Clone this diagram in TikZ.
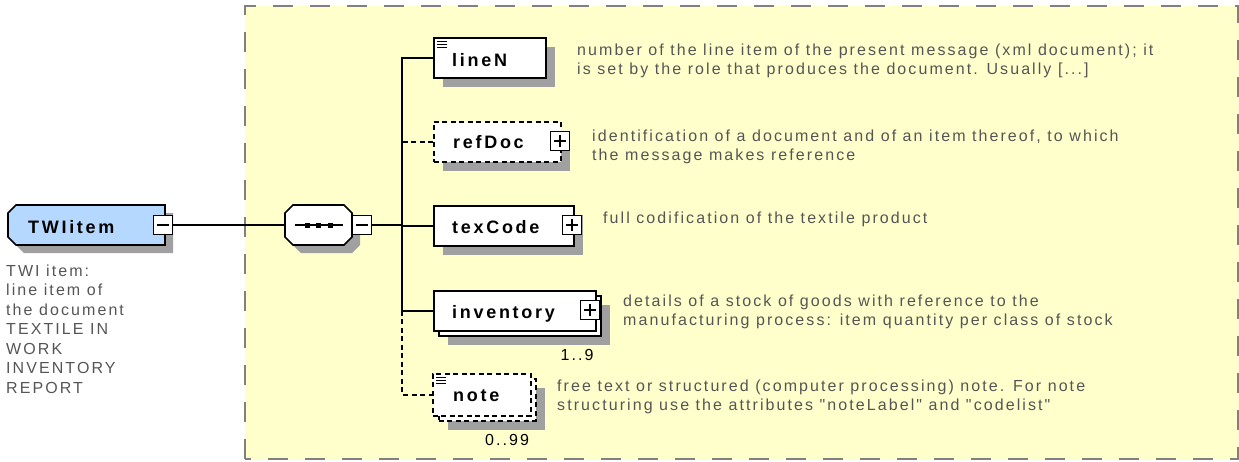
\documentclass[tikz,border=0pt]{standalone}
\usepackage{fontspec}
\setmainfont{Liberation Sans}
\newfontfamily\descfont[LetterSpace=13]{Liberation Sans}
\newfontfamily\lblfont[LetterSpace=15]{Liberation Sans}
\usetikzlibrary{calc,shadows}
\definecolor{bgyellow}{HTML}{FFFFCC}
\definecolor{bordergray}{HTML}{808080}
\definecolor{shadowgray}{HTML}{A0A0A0}
\definecolor{twiblue}{HTML}{B4D8FF}
\definecolor{desctext}{HTML}{555555}
\tikzset{
  boxbase/.style={draw=black, line width=1.6pt, fill=white, inner sep=0pt, anchor=north west},
  elem/.style={boxbase, general shadow={fill=shadowgray, shadow xshift=9pt, shadow yshift=-9pt}},
  optdash/.style={dash pattern=on 5pt off 3.5pt},
  pm/.style={draw=black, line width=1.3pt, fill=white, minimum width=19pt, minimum height=19pt, inner sep=0pt},
  pmline/.style={line width=1.3pt},
  lbl/.style={font=\lblfont\bfseries\fontsize{18}{20}\selectfont, anchor=base west, inner sep=0pt},
  desc/.style={font=\descfont\fontsize{16}{19.5}\selectfont, text=desctext, align=left, anchor=base west, inner sep=0pt},
  mult/.style={font=\descfont\fontsize{16}{19.5}\selectfont, text=black, inner sep=0pt},
  conn/.style={line width=1.6pt},
  iconline/.style={line width=1pt},
}
\begin{document}
\begin{tikzpicture}[x=1pt,y=-1pt]
\useasboundingbox (0,0) rectangle (1239,461);
% background region
\fill[bgyellow] (245,6) rectangle (1239,459);
\draw[bordergray, line width=2pt, dash pattern=on 20pt off 17pt] (245,459) -- (245,6) -- (1238,6) -- (1238,459) -- cycle;

% TWIitem element
\node[inner sep=0pt, minimum width=157pt, minimum height=40pt, anchor=north west] (twi) at (8,205) {};
\fill[shadowgray] (24,213) -- (173,213) -- (173,253) -- (24,253) -- (16,245) -- (16,221) -- cycle;
\filldraw[fill=twiblue, draw=black, line width=1.6pt] (16,205) -- (165,205) -- (165,245) -- (16,245) -- (8,237) -- (8,213) -- cycle;
\node[lbl] (twil) at (28,233) {TWIitem};
\node[pm] (twim) at (163,225) {};
\draw[pmline] ($(twim.center)+(-6,0)$) -- ($(twim.center)+(6,0)$);
% anchor base = baseline of the last line
\node[desc] (twid) at (6,393) {TWI item:\\line item of\\the document\\TEXTILE IN\\WORK\\INVENTORY\\REPORT};

% sequence compositor
\node[inner sep=0pt, minimum width=67pt, minimum height=40pt] (seq) at (318.5,225) {};
\fill[shadowgray] (301,213) -- (352,213) -- (360,221) -- (360,245) -- (352,253) -- (301,253) -- (293,245) -- (293,221) -- cycle;
\filldraw[fill=white, draw=black, line width=1.6pt] (293,205) -- (344,205) -- (352,213) -- (352,237) -- (344,245) -- (293,245) -- (285,237) -- (285,213) -- cycle;
\draw[line width=1.3pt] (295,225) -- (343,225);
\foreach \sx in {307,318,330} {\fill (\sx-2.5,222.5) rectangle (\sx+2.5,227.5);}
\node[pm] (seqm) at (362,225) {};
\draw[pmline] ($(seqm.center)+(-6,0)$) -- ($(seqm.center)+(6,0)$);

% trunk coordinate
\coordinate (trunk) at (402,57);

% lineN
\node[elem, minimum width=112pt, minimum height=40pt] (lineN) at (433,37) {};
\draw[iconline] (437,41) -- (447,41) (437,44) -- (447,44) (437,47) -- (447,47);
\node[lbl] (lineNl) at (452,66) {lineN};
\node[desc] (lineNd) at (577,74.5) {number of the line item of the present message (xml document); it\\is set by the role that produces the document. Usually [...]};

% refDoc
\node[elem, optdash, minimum width=127pt, minimum height=40pt] (refDoc) at (433,121) {};
\node[lbl] (refDocl) at (453,148) {refDoc};
\node[pm] (refDocp) at (560,141) {};
\draw[pmline] ($(refDocp.center)+(-6,0)$) -- ($(refDocp.center)+(6,0)$) ($(refDocp.center)+(0,-6)$) -- ($(refDocp.center)+(0,6)$);
\node[desc] (refDocd) at (592,160.5) {identification of a document and of an item thereof, to which\\the message makes reference};

% texCode
\node[elem, minimum width=140pt, minimum height=40pt] (texCode) at (433,205) {};
\node[lbl] (texCodel) at (452,233) {texCode};
\node[pm] (texCodep) at (572,225) {};
\draw[pmline] ($(texCodep.center)+(-6,0)$) -- ($(texCodep.center)+(6,0)$) ($(texCodep.center)+(0,-6)$) -- ($(texCodep.center)+(0,6)$);
\node[desc] (texCoded) at (603,223) {full codification of the textile product};

% inventory (multiple)
\node[elem, minimum width=162pt, minimum height=40pt] (invB) at (438,295) {};
\node[boxbase, minimum width=162pt, minimum height=40pt] (inventory) at (433,290) {};
\node[lbl] (inventoryl) at (452,318) {inventory};
\node[pm] (inventoryp) at (590,310) {};
\draw[pmline] ($(inventoryp.center)+(-6,0)$) -- ($(inventoryp.center)+(6,0)$) ($(inventoryp.center)+(0,-6)$) -- ($(inventoryp.center)+(0,6)$);
\node[mult] (inventorym) at (577,355) {1..9};
\node[desc] (inventoryd) at (623,325.5) {details of a stock of goods with reference to the\\manufacturing process: item quantity per class of stock};

% note (optional, multiple)
\node[elem, optdash, minimum width=97pt, minimum height=42pt] (noteB) at (438,378) {};
\node[boxbase, optdash, minimum width=98pt, minimum height=42pt] (note) at (432,373) {};
\draw[iconline] (436,377) -- (446,377) (436,380) -- (446,380) (436,383) -- (446,383);
\node[lbl] (notel) at (453,401) {note};
\node[mult] (notem) at (507,440) {0..99};
\node[desc] (noted) at (557,410.5) {free text or structured (computer processing) note. For note\\structuring use the attributes "noteLabel" and "codelist"};

% connectors
\draw[conn] (twim.east) -- (seq.west);
\draw[conn] (seqm.east) -- (seqm.east -| trunk);
\draw[conn] (lineN.west) -- (lineN.west -| trunk) -- (inventory.west -| trunk) -- (inventory.west);
\draw[conn, optdash] (refDoc.west) -- (refDoc.west -| trunk);
\draw[conn] (texCode.west) -- (texCode.west -| trunk);
\draw[conn, optdash] (inventory.west -| trunk) -- (note.west -| trunk) -- (note.west);
\end{tikzpicture}
\end{document}
